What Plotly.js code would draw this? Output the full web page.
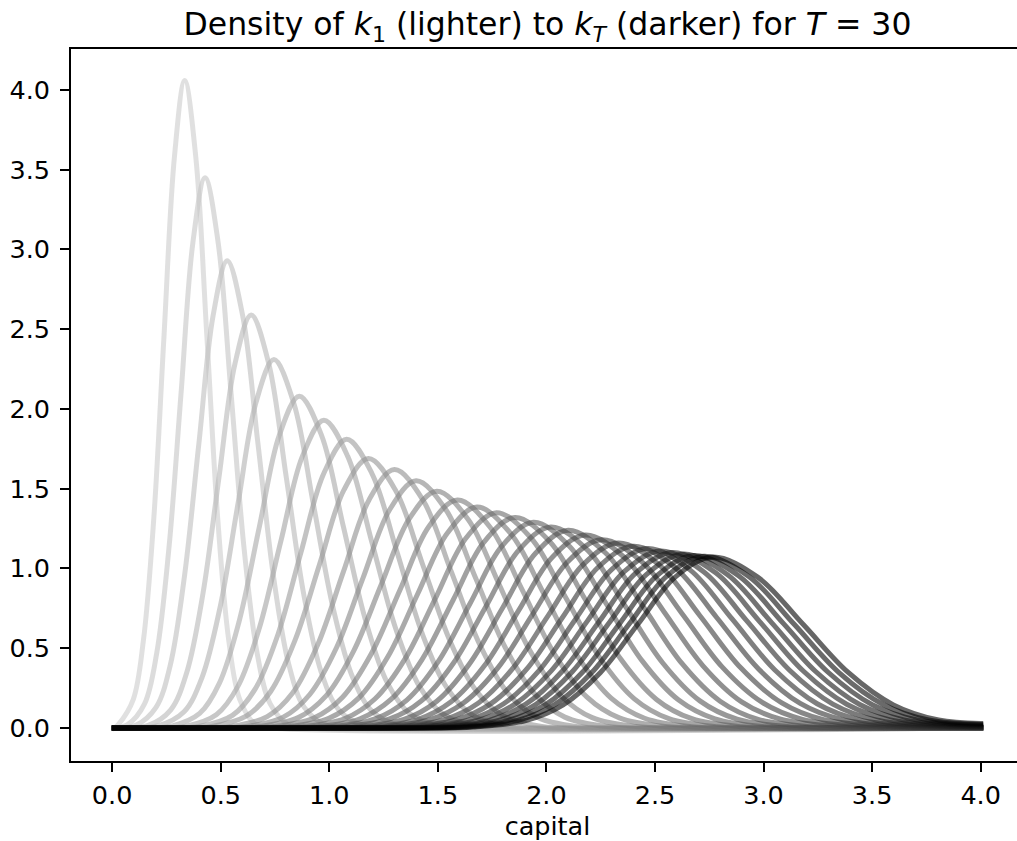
<!DOCTYPE html>
<html>
<head>
<meta charset="utf-8">
<script src="https://cdn.plot.ly/plotly-3.0.1.min.js"></script>
<style>
html, body { margin: 0; padding: 0; overflow: hidden; background: #ffffff; }
#frame { width: 1017px; height: 841px; overflow: hidden; position: relative; }
#chart { width: 1030px; height: 841px; position: absolute; left: 0; top: 0; }
.js-line { stroke-linecap: square; }
</style>
</head>
<body>
<div id="frame"><div id="chart"></div></div>
<script>
// ---- Data (capital grid points and density values per date) ----
const k01_capital = [0.01, 0.030, 0.097, 0.144, 0.192, 0.239, 0.287, 0.334, 0.385, 0.436, 0.486, 0.537, 0.588, 0.659, 0.740, 4.0];
const k01_density = [0, 0.024, 0.178, 0.549, 1.318, 2.462, 3.583, 4.06, 3.583, 2.462, 1.318, 0.549, 0.178, 0.024, 0, 0];
const k02_capital = [0.01, 0.071, 0.149, 0.205, 0.261, 0.317, 0.372, 0.428, 0.488, 0.548, 0.608, 0.668, 0.728, 0.812, 0.908, 4.0];
const k02_density = [0, 0.021, 0.151, 0.467, 1.120, 2.092, 3.045, 3.45, 3.045, 2.092, 1.120, 0.467, 0.151, 0.021, 0, 0];
const k03_capital = [0.01, 0.111, 0.202, 0.268, 0.333, 0.399, 0.465, 0.530, 0.601, 0.672, 0.743, 0.814, 0.885, 0.985, 1.098, 4.0];
const k03_density = [0, 0.018, 0.129, 0.396, 0.951, 1.777, 2.586, 2.93, 2.586, 1.777, 0.951, 0.396, 0.129, 0.018, 0, 0];
const k04_capital = [0.01, 0.048, 0.166, 0.270, 0.344, 0.418, 0.492, 0.566, 0.640, 0.721, 0.802, 0.882, 0.963, 1.044, 1.157, 1.286, 4.0];
const k04_density = [0, 0, 0.016, 0.114, 0.350, 0.841, 1.571, 2.286, 2.59, 2.286, 1.571, 0.841, 0.350, 0.114, 0.016, 0, 0];
const k05_capital = [0.01, 0.082, 0.214, 0.331, 0.413, 0.496, 0.579, 0.662, 0.745, 0.836, 0.927, 1.018, 1.109, 1.200, 1.327, 1.473, 4.0];
const k05_density = [0, 0, 0.014, 0.101, 0.313, 0.750, 1.401, 2.039, 2.31, 2.039, 1.401, 0.750, 0.313, 0.101, 0.014, 0, 0];
const k06_capital = [0.01, 0.127, 0.274, 0.403, 0.494, 0.586, 0.678, 0.770, 0.862, 0.964, 1.065, 1.167, 1.268, 1.370, 1.512, 1.674, 4.0];
const k06_density = [0, 0, 0.012, 0.091, 0.281, 0.675, 1.262, 1.836, 2.08, 1.836, 1.262, 0.675, 0.281, 0.091, 0.012, 0, 0];
const k07_capital = [0.01, 0.184, 0.342, 0.481, 0.579, 0.678, 0.777, 0.876, 0.975, 1.085, 1.195, 1.305, 1.415, 1.525, 1.678, 1.854, 4.0];
const k07_density = [0, 0, 0.012, 0.085, 0.261, 0.627, 1.171, 1.703, 1.93, 1.703, 1.171, 0.627, 0.261, 0.085, 0.012, 0, 0];
const k08_capital = [0.01, 0.238, 0.406, 0.554, 0.659, 0.764, 0.869, 0.975, 1.080, 1.196, 1.313, 1.429, 1.545, 1.661, 1.824, 2.010, 4.0];
const k08_density = [0, 0, 0.011, 0.079, 0.245, 0.588, 1.098, 1.597, 1.81, 1.597, 1.098, 0.588, 0.245, 0.079, 0.011, 0, 0];
const k09_capital = [0.01, 0.279, 0.459, 0.617, 0.730, 0.842, 0.955, 1.067, 1.180, 1.305, 1.430, 1.555, 1.679, 1.804, 1.979, 2.179, 4.0];
const k09_density = [0, 0, 0.010, 0.074, 0.229, 0.549, 1.025, 1.491, 1.69, 1.491, 1.025, 0.549, 0.229, 0.074, 0.010, 0, 0];
const k10_capital = [0.01, 0.362, 0.550, 0.714, 0.831, 0.948, 1.066, 1.183, 1.300, 1.431, 1.561, 1.692, 1.822, 1.953, 2.136, 2.344, 4.0];
const k10_density = [0, 0, 0.010, 0.071, 0.219, 0.526, 0.983, 1.430, 1.62, 1.430, 0.983, 0.526, 0.219, 0.071, 0.010, 0, 0];
const k11_capital = [0.01, 0.421, 0.617, 0.788, 0.910, 1.033, 1.155, 1.278, 1.400, 1.537, 1.674, 1.811, 1.948, 2.085, 2.276, 2.495, 4.0];
const k11_density = [0, 0, 0.009, 0.068, 0.210, 0.503, 0.940, 1.368, 1.55, 1.368, 0.940, 0.503, 0.210, 0.068, 0.009, 0, 0];
const k12_capital = [0.01, 0.475, 0.679, 0.857, 0.985, 1.112, 1.240, 1.368, 1.495, 1.638, 1.782, 1.925, 2.068, 2.211, 2.412, 2.641, 4.0];
const k12_density = [0, 0, 0.009, 0.065, 0.201, 0.482, 0.901, 1.311, 1.485, 1.311, 0.901, 0.482, 0.201, 0.065, 0.009, 0, 0];
const k13_capital = [0.01, 0.532, 0.744, 0.929, 1.061, 1.193, 1.326, 1.458, 1.590, 1.739, 1.888, 2.037, 2.187, 2.336, 2.545, 2.783, 4.0];
const k13_density = [0, 0, 0.009, 0.063, 0.193, 0.464, 0.867, 1.262, 1.43, 1.262, 0.867, 0.464, 0.193, 0.063, 0.009, 0, 0];
const k14_capital = [0.01, 0.589, 0.807, 0.998, 1.135, 1.271, 1.407, 1.544, 1.680, 1.834, 1.989, 2.143, 2.298, 2.452, 2.668, 2.916, 4.0];
const k14_density = [0, 0, 0.008, 0.061, 0.187, 0.450, 0.840, 1.222, 1.385, 1.222, 0.840, 0.450, 0.187, 0.061, 0.008, 0, 0];
const k15_capital = [0.01, 0.653, 0.876, 1.072, 1.211, 1.351, 1.491, 1.630, 1.770, 1.929, 2.088, 2.247, 2.405, 2.564, 2.787, 3.041, 4.0];
const k15_density = [0, 0, 0.008, 0.059, 0.183, 0.438, 0.819, 1.191, 1.35, 1.191, 0.819, 0.438, 0.183, 0.059, 0.008, 0, 0];
const k16_capital = [0.01, 0.714, 0.942, 1.142, 1.284, 1.427, 1.570, 1.712, 1.855, 2.018, 2.181, 2.344, 2.507, 2.670, 2.898, 3.159, 4.0];
const k16_density = [0, 0, 0.008, 0.058, 0.179, 0.429, 0.801, 1.165, 1.32, 1.165, 0.801, 0.429, 0.179, 0.058, 0.008, 0, 0];
const k17_capital = [0.01, 0.774, 1.007, 1.211, 1.357, 1.503, 1.649, 1.794, 1.940, 2.107, 2.274, 2.442, 2.609, 2.776, 3.010, 3.278, 4.0];
const k17_density = [0, 0, 0.008, 0.057, 0.175, 0.419, 0.782, 1.138, 1.29, 1.138, 0.782, 0.419, 0.175, 0.057, 0.008, 0, 0];
const k18_capital = [0.01, 0.828, 1.066, 1.275, 1.424, 1.573, 1.722, 1.871, 2.020, 2.192, 2.363, 2.535, 2.707, 2.878, 3.119, 3.393, 4.0];
const k18_density = [0, 0, 0.008, 0.055, 0.170, 0.409, 0.764, 1.112, 1.26, 1.112, 0.764, 0.409, 0.170, 0.055, 0.008, 0, 0];
const k19_capital = [0.01, 0.890, 1.132, 1.344, 1.495, 1.646, 1.798, 1.949, 2.100, 2.275, 2.450, 2.625, 2.800, 2.975, 3.219, 3.499, 4.0];
const k19_density = [0, 0, 0.007, 0.054, 0.168, 0.403, 0.752, 1.094, 1.24, 1.094, 0.752, 0.403, 0.168, 0.054, 0.008, 0.001, 0];
const k20_capital = [0.01, 0.942, 1.190, 1.407, 1.561, 1.716, 1.871, 2.025, 2.180, 2.360, 2.539, 2.719, 2.899, 3.079, 3.330, 3.618, 4.0];
const k20_density = [0, 0, 0.007, 0.053, 0.164, 0.393, 0.734, 1.068, 1.21, 1.068, 0.734, 0.393, 0.164, 0.055, 0.012, 0.002, 0];
const k21_capital = [0.01, 0.988, 1.241, 1.463, 1.621, 1.780, 1.938, 2.097, 2.255, 2.440, 2.625, 2.809, 2.994, 3.179, 3.438, 3.733, 4.0];
const k21_density = [0, 0, 0.007, 0.052, 0.160, 0.383, 0.716, 1.041, 1.18, 1.041, 0.716, 0.383, 0.160, 0.054, 0.012, 0.002, 0.001];
const k22_capital = [0.01, 1.043, 1.301, 1.526, 1.687, 1.847, 2.008, 2.169, 2.330, 2.518, 2.707, 2.895, 3.084, 3.272, 3.536, 3.837, 4.0];
const k22_density = [0, 0, 0.007, 0.051, 0.157, 0.377, 0.704, 1.024, 1.16, 1.024, 0.704, 0.377, 0.157, 0.053, 0.012, 0.003, 0.002];
const k23_capital = [0.01, 1.092, 1.354, 1.583, 1.746, 1.910, 2.073, 2.237, 2.400, 2.592, 2.785, 2.977, 3.169, 3.362, 3.631, 3.938, 4.0];
const k23_density = [0, 0, 0.007, 0.050, 0.154, 0.370, 0.691, 1.006, 1.14, 1.006, 0.691, 0.370, 0.154, 0.052, 0.011, 0.003, 0.002];
const k24_capital = [0.01, 1.141, 1.406, 1.638, 1.803, 1.969, 2.134, 2.300, 2.465, 2.660, 2.856, 3.051, 3.247, 3.442, 3.716, 4.0];
const k24_density = [0, 0, 0.007, 0.049, 0.152, 0.365, 0.682, 0.993, 1.125, 0.993, 0.682, 0.365, 0.152, 0.051, 0.012, 0.005];
const k25_capital = [0.01, 1.185, 1.453, 1.688, 1.855, 2.023, 2.190, 2.358, 2.525, 2.724, 2.922, 3.121, 3.319, 3.518, 3.796, 4.0];
const k25_density = [0, 0, 0.007, 0.049, 0.150, 0.360, 0.673, 0.980, 1.11, 0.980, 0.673, 0.360, 0.150, 0.050, 0.012, 0.006];
const k26_capital = [0.01, 1.230, 1.500, 1.737, 1.905, 2.074, 2.243, 2.411, 2.580, 2.781, 2.982, 3.183, 3.383, 3.584, 3.865, 4.0];
const k26_density = [0, 0, 0.007, 0.048, 0.149, 0.357, 0.667, 0.971, 1.10, 0.971, 0.667, 0.357, 0.149, 0.050, 0.013, 0.008];
const k27_capital = [0.01, 1.270, 1.542, 1.780, 1.950, 2.120, 2.290, 2.460, 2.630, 2.833, 3.037, 3.240, 3.443, 3.646, 3.931, 4.0];
const k27_density = [0, 0, 0.007, 0.048, 0.147, 0.354, 0.661, 0.962, 1.09, 0.962, 0.661, 0.354, 0.147, 0.050, 0.014, 0.011];
const k28_capital = [0.01, 1.312, 1.585, 1.825, 1.996, 2.167, 2.338, 2.509, 2.680, 2.885, 3.091, 3.296, 3.501, 3.707, 4.0];
const k28_density = [0, 0, 0.006, 0.048, 0.146, 0.351, 0.656, 0.955, 1.082, 0.955, 0.656, 0.351, 0.146, 0.050, 0.017];
const k29_capital = [0.01, 1.351, 1.626, 1.867, 2.038, 2.210, 2.382, 2.553, 2.725, 2.932, 3.139, 3.346, 3.553, 3.760, 4.0];
const k29_density = [0, 0, 0.006, 0.047, 0.146, 0.349, 0.653, 0.950, 1.076, 0.950, 0.653, 0.349, 0.146, 0.050, 0.022];
const k30_capital = [0.01, 1.388, 1.664, 1.905, 2.077, 2.249, 2.421, 2.593, 2.765, 2.973, 3.182, 3.390, 3.598, 3.806, 4.0];
const k30_density = [0, 0, 0.006, 0.047, 0.145, 0.348, 0.650, 0.946, 1.072, 0.946, 0.650, 0.348, 0.145, 0.050, 0.028];

const seriesCapital = [k01_capital, k02_capital, k03_capital, k04_capital, k05_capital, k06_capital, k07_capital, k08_capital, k09_capital, k10_capital,
  k11_capital, k12_capital, k13_capital, k14_capital, k15_capital, k16_capital, k17_capital, k18_capital, k19_capital, k20_capital,
  k21_capital, k22_capital, k23_capital, k24_capital, k25_capital, k26_capital, k27_capital, k28_capital, k29_capital, k30_capital];
const seriesDensity = [k01_density, k02_density, k03_density, k04_density, k05_density, k06_density, k07_density, k08_density, k09_density, k10_density,
  k11_density, k12_density, k13_density, k14_density, k15_density, k16_density, k17_density, k18_density, k19_density, k20_density,
  k21_density, k22_density, k23_density, k24_density, k25_density, k26_density, k27_density, k28_density, k29_density, k30_density];

const T = 30;
const titleText = 'Density of <i>k</i><sub>1</sub> (lighter) to <i>k</i><sub><i>T</i></sub> (darker) for <i>T</i> = 30';
const xLabel = 'capital';

// ---- Styling ----
const FONT = 'DejaVu Sans, Liberation Sans, sans-serif';
const TICK_SIZE = 25.5;
const traces = seriesCapital.map((xs, i) => {
  const g = Math.round(255 * 0.8 * (T - 1 - i) / (T - 1));
  return {
    type: 'scatter', mode: 'lines',
    x: xs, y: seriesDensity[i],
    line: { color: `rgba(${g},${g},${g},0.6)`, width: 5, shape: 'spline', smoothing: 1 },
    hoverinfo: 'skip', showlegend: false
  };
});

const axisCommon = {
  showgrid: false, zeroline: false,
  showline: true, linecolor: 'black', linewidth: 2,
  ticks: 'outside', ticklen: 8.9, tickwidth: 2, tickcolor: 'black',
  tickmode: 'linear', tick0: 0, dtick: 0.5, tickformat: '.1f',
  tickfont: { family: FONT, size: TICK_SIZE, color: 'black' }
};

const layout = {
  width: 1030, height: 841,
  margin: { l: 71, r: 6, t: 49, b: 80, pad: 0 },
  paper_bgcolor: 'white', plot_bgcolor: 'white',
  font: { family: FONT, color: 'black', size: TICK_SIZE },
  showlegend: false,
  title: {
    text: titleText,
    font: { family: FONT, size: 31.5, color: 'black' },
    x: 0.5, xref: 'paper', xanchor: 'center',
    y: 1, yref: 'paper', yanchor: 'bottom',
    pad: { b: 14 }
  },
  xaxis: Object.assign({}, axisCommon, {
    range: [-0.1895, 4.1995],
    mirror: true,
    ticklabelstandoff: 1,
    title: { text: xLabel, font: { family: FONT, size: TICK_SIZE, color: 'black' }, standoff: 12 }
  }),
  yaxis: Object.assign({}, axisCommon, {
    range: [-0.207, 4.257],
    mirror: false,
    ticklabelstandoff: 5
  })
};

Plotly.newPlot('chart', traces, layout, { staticPlot: true, displayModeBar: false });
</script>
</body>
</html>
